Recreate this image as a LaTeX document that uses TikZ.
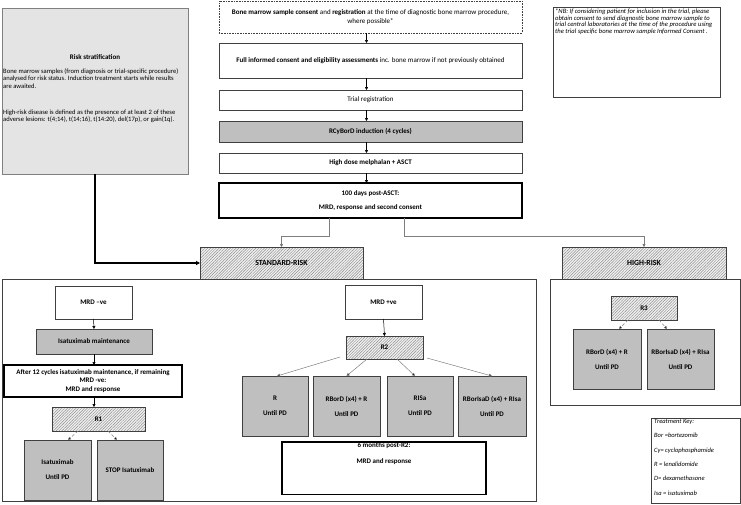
\documentclass[tikz,border=0pt]{standalone}
\usepackage{fontspec}
\setmainfont{Carlito}
\usetikzlibrary{arrows.meta,patterns.meta}
\definecolor{boxgrey}{HTML}{BFBFBF}
\definecolor{riskgrey}{HTML}{E4E4E4}
\definecolor{linegrey}{HTML}{404040}
\definecolor{hatchgrey}{HTML}{8C8C8C}
\definecolor{wiregrey}{HTML}{7F7F7F}

\begin{document}
\begin{tikzpicture}[x=1pt,y=-1pt,
  box/.style={draw=linegrey,line width=0.6pt,anchor=north west,inner sep=1pt,outer sep=0pt,align=center,font=\fontsize{7}{8.5}\selectfont},
  greybox/.style={box,fill=boxgrey,font=\fontsize{7}{8.5}\selectfont\bfseries},
  hatchbox/.style={box,preaction={fill=gray!12},pattern={Lines[angle=45,distance=2pt,line width=0.45pt]},pattern color=hatchgrey,font=\fontsize{7}{8.5}\selectfont\bfseries},
  heavybox/.style={box,draw=black,line width=1.5pt,font=\fontsize{7}{8.5}\selectfont\bfseries},
  frame/.style={draw=linegrey,line width=0.8pt,anchor=north west,outer sep=0pt,inner sep=0pt},
  link/.style={draw=black,line width=0.5pt,-{Triangle[length=3pt,width=3pt]}},
  fork/.style={draw=wiregrey,line width=0.5pt,-{Triangle[length=3pt,width=3pt,fill=black]}},
  dashfork/.style={fork,densely dashed},
  boldlink/.style={draw=black,line width=1.4pt,-{Triangle[length=4pt,width=4pt]}}]
\useasboundingbox (0,0) rectangle (741,504);

\node[box,fill=riskgrey,draw=gray,minimum width=186pt,minimum height=166pt] (risk) at (2,8) {};
\node[font=\fontsize{7}{8.5}\selectfont\bfseries] (risktitle) at (95,57) {Risk stratification};
\node[anchor=north west,align=left,inner sep=0pt,font=\fontsize{6.6}{7.6}\selectfont] (risktext) at (3,68) {Bone marrow samples (from diagnosis or trial-specific procedure)\\ analysed for risk status. Induction treatment starts while results\\ are awaited.\\[18.5pt] High-risk disease is defined as the presence of at least 2 of these\\ adverse lesions: t(4;14), t(14;16), t(14:20), del(17p), or gain(1q).};

\node[box,densely dotted,minimum width=303pt,minimum height=32pt] (consent) at (219,1) {\textbf{Bone marrow sample consent} and \textbf{registration} at the time of diagnostic bone marrow procedure,\\ where possible*};
\node[box,minimum width=303pt,minimum height=35pt] (full) at (219,43) {\textbf{Full informed consent and eligibility assessments} inc. bone marrow if not previously obtained};
\node[box,minimum width=303pt,minimum height=20pt] (trial) at (219,90) {Trial registration};
\node[greybox,minimum width=303pt,minimum height=21pt] (induct) at (219,121) {RCyBorD induction (4 cycles)};
\node[box,minimum width=303pt,minimum height=20pt,font=\fontsize{7}{8.5}\selectfont\bfseries] (hdm) at (219,153) {High dose melphalan + ASCT};
\node[heavybox,minimum width=303pt,minimum height=35pt] (post) at (219,183) {100 days post-ASCT:\\[6pt] MRD, response and second consent};

\node[box,minimum width=167pt,minimum height=90pt] (nb) at (553,7) {};
\node[anchor=north west,align=left,inner sep=0pt,font=\fontsize{6.6}{6.4}\selectfont\itshape] (nbtext) at (555,9) {*NB: If considering patient for inclusion in the trial, please\\ obtain consent to send diagnostic bone marrow sample to\\ trial central laboratories at the time of the procedure using\\ the trial specific bone marrow sample Informed Consent .};

\node[frame,minimum width=534pt,minimum height=222pt] (stdframe) at (2,279) {};
\node[frame,minimum width=190pt,minimum height=126pt] (highframe) at (550,279) {};
\node[hatchbox,minimum width=163pt,minimum height=32pt,font=\fontsize{7.8}{9}\selectfont\bfseries] (std) at (200,247) {STANDARD-RISK};
\node[hatchbox,minimum width=164pt,minimum height=32pt,font=\fontsize{7.8}{9}\selectfont\bfseries] (high) at (562,247) {HIGH-RISK};

\node[box,minimum width=77pt,minimum height=33pt,font=\fontsize{7}{8.5}\selectfont\bfseries] (mrdneg) at (55,286) {MRD --ve};
\node[greybox,minimum width=116pt,minimum height=25pt] (isamain) at (36,329) {Isatuximab maintenance};
\node[heavybox,minimum width=178pt,minimum height=32pt,font=\fontsize{7}{8.5}\selectfont\bfseries] (after) at (4,365) {After 12 cycles isatuximab maintenance, if remaining\\ MRD -ve:\\ MRD and response};
\node[hatchbox,minimum width=93pt,minimum height=24pt] (rone) at (52,407) {R1};
\node[greybox,minimum width=67pt,minimum height=60pt] (isa) at (24,440) {Isatuximab\\[6.5pt] Until PD};
\node[greybox,minimum width=66pt,minimum height=60pt] (stop) at (97,440) {STOP Isatuximab};

\node[box,minimum width=77pt,minimum height=34pt,font=\fontsize{7}{8.5}\selectfont\bfseries] (mrdpos) at (345,285) {MRD +ve};
\node[hatchbox,minimum width=77pt,minimum height=23pt] (rtwo) at (346,336) {R2};
\node[greybox,minimum width=66pt,minimum height=60pt] (rlen) at (242,376) {R\\[6.5pt] Until PD};
\node[greybox,minimum width=67pt,minimum height=60pt] (rbord) at (313,376) {RBorD (x4) + R\\[6.5pt] Until PD};
\node[greybox,minimum width=66pt,minimum height=60pt] (risa) at (387,376) {RISa\\[6.5pt] Until PD};
\node[greybox,minimum width=68pt,minimum height=60pt] (rborisa) at (458,376) {RBorIsaD (x4) + RIsa\\[6.5pt] Until PD};
\node[heavybox,minimum width=204pt,minimum height=48pt] (six) at (282,442) {6 months post-R2:\\[7.5pt] MRD and response\\[21pt]\mbox{}};

\node[hatchbox,minimum width=66pt,minimum height=24pt] (rthree) at (611,296) {R3};
\node[greybox,minimum width=68pt,minimum height=60pt] (hbord) at (573,329) {RBorD (x4) + R\\[6.5pt] Until PD};
\node[greybox,minimum width=67pt,minimum height=60pt] (hborisa) at (647,329) {RBorIsaD (x4) + RIsa\\[6.5pt] Until PD};

\node[box,minimum width=89pt,minimum height=85pt] (key) at (651,418) {};
\node[anchor=north west,align=left,inner sep=0pt,font=\fontsize{6.5}{14.4}\selectfont\itshape] (keytext) at (654,419) {Treatment Key:\\ Bor =bortezomib\\ Cy= cyclophosphamide\\ R = lenalidomide\\ D= dexamethasone\\ Isa = isatuximab};

\draw[link] ([xshift=-4pt]consent.south) -- ([xshift=-4pt]full.north);
\draw[link] ([xshift=-4pt]full.south) -- ([xshift=-4pt]trial.north);
\draw[link] ([xshift=-4pt]trial.south) -- ([xshift=-4pt]induct.north);
\draw[link] ([xshift=-4pt]induct.south) -- ([xshift=-4pt]hdm.north);
\draw[link] ([xshift=-4pt]hdm.south) -- ([xshift=-4pt]post.north);
\draw[fork] ([xshift=-41.5pt]post.south) -- ++(0,18) -| (std.north);
\draw[fork] ([xshift=33.5pt]post.south) -- ++(0,18) -| (high.north);
\draw[boldlink] (risk.south) |- (std.west);

\draw[link] (mrdneg.south) -- (isamain.north);
\draw[link] (isamain.south) -- (after.north -| isamain.south);
\draw[link] (after.south -| isamain.south) -- (rone.north -| isamain.south);
\draw[dashfork] ([xshift=-20.5pt]rone.south) -- ([xshift=10.5pt]isa.north);
\draw[dashfork] ([xshift=9.5pt]rone.south) -- ([xshift=-13pt]stop.north);

\draw[link] (mrdpos.south) -- (rtwo.north);
\draw[fork] ([xshift=-6pt,yshift=2pt]rtwo.south west) -- ([xshift=2pt]rlen.north);
\draw[fork] ([xshift=-17.5pt]rtwo.south) -- (rbord.north);
\draw[fork] ([xshift=12.5pt]rtwo.south) -- ([xshift=-5pt]risa.north);
\draw[fork] ([xshift=4pt,yshift=1pt]rtwo.south east) -- (rborisa.north);

\draw[dashfork] ([xshift=-16pt]rthree.south) -- ([xshift=12pt]hbord.north);
\draw[dashfork] ([xshift=15pt]rthree.south) -- ([xshift=-13.5pt]hborisa.north);
\end{tikzpicture}
\end{document}
